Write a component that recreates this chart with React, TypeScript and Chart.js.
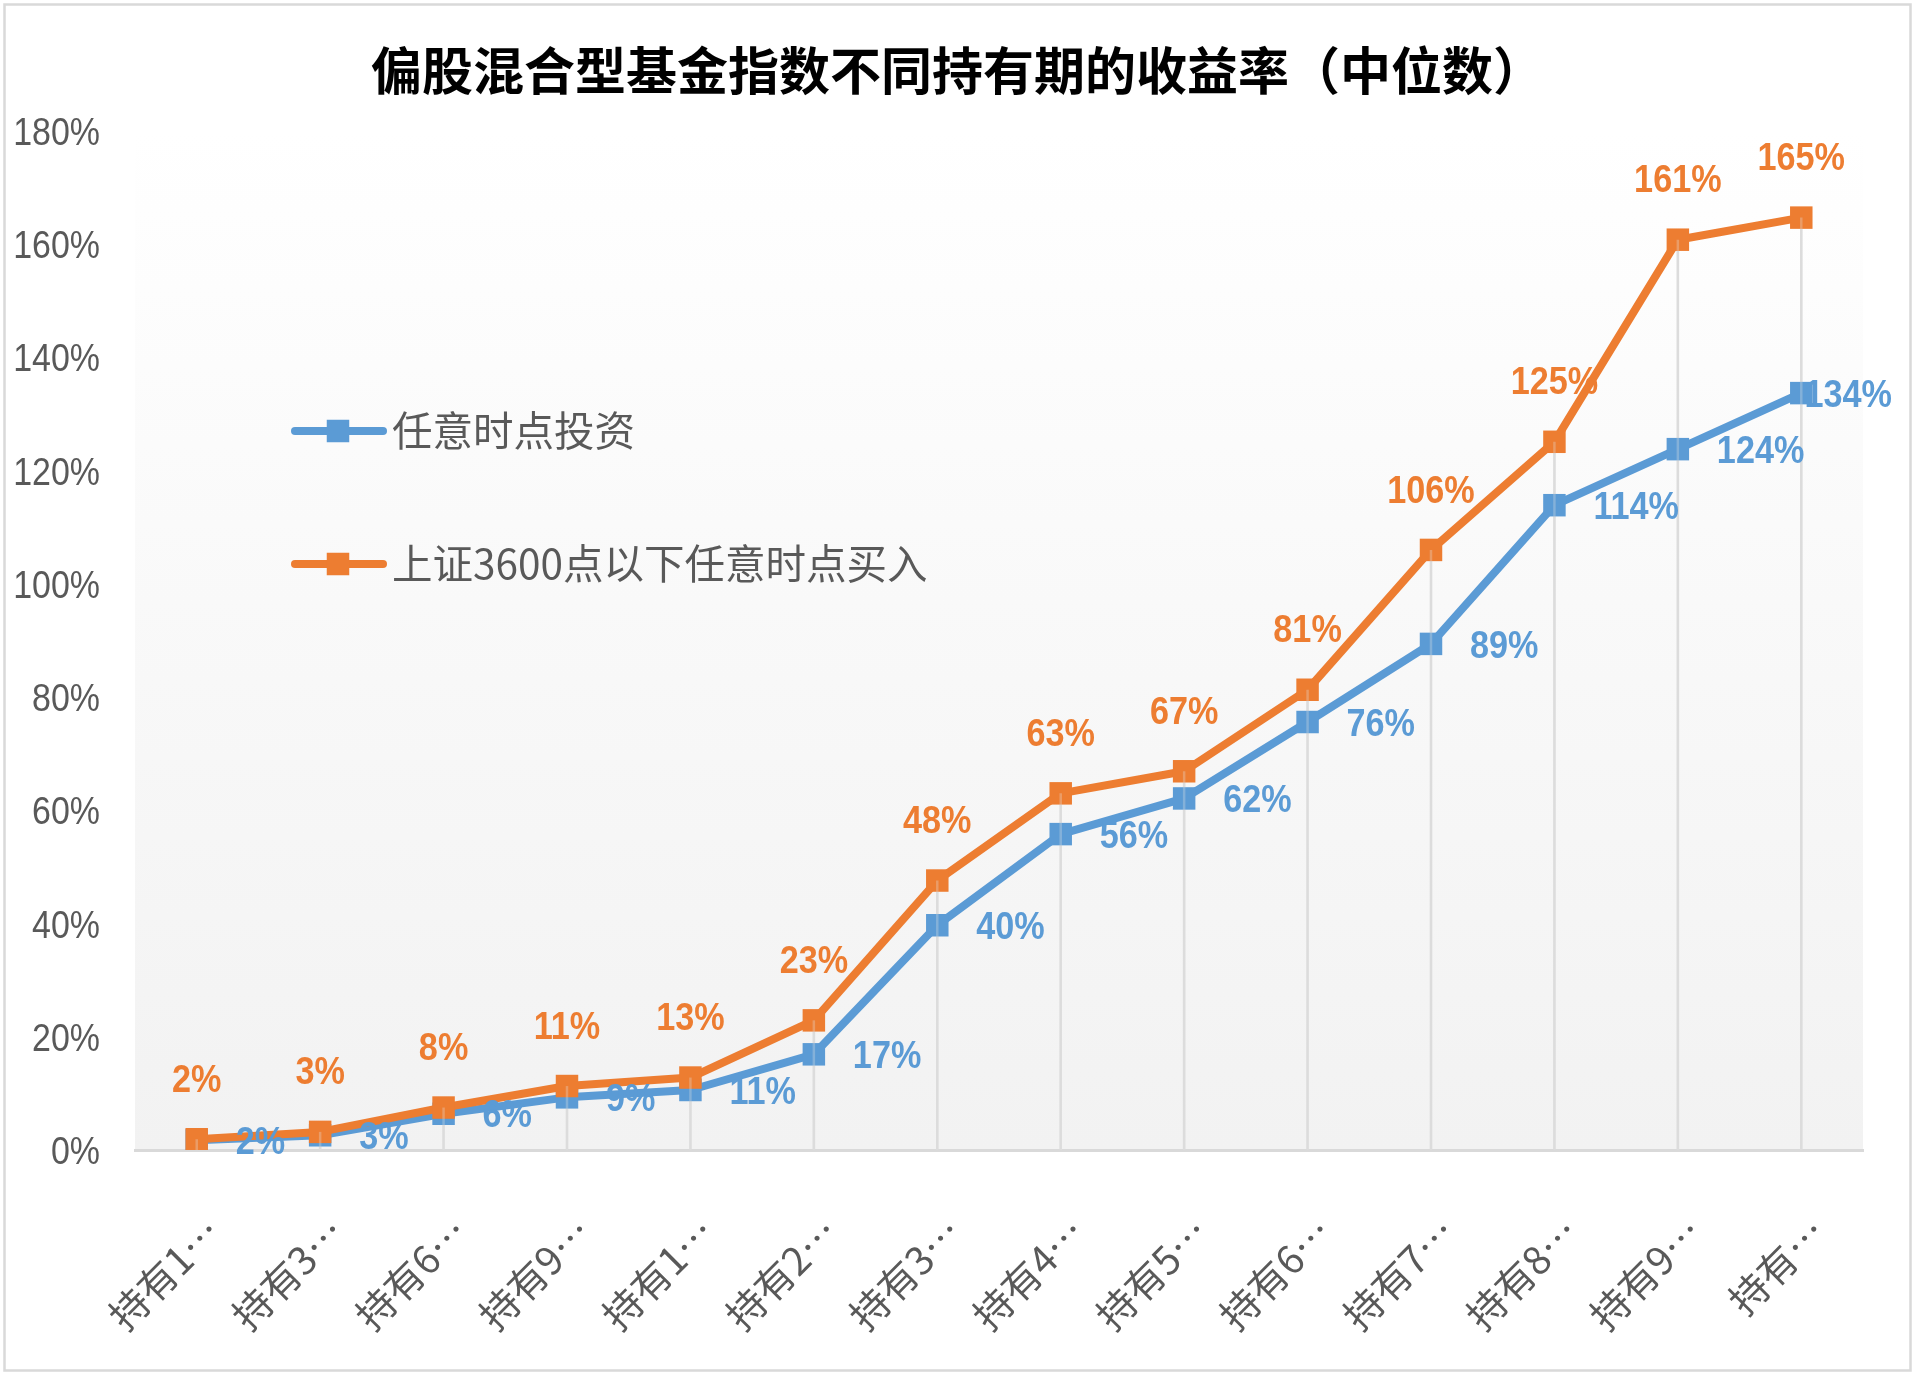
import React, { useEffect, useRef } from 'react';
import { Chart, registerables } from 'chart.js';

Chart.register(...registerables);

const TITLE = '偏股混合型基金指数不同持有期的收益率（中位数）';
const categories = ['持有1…', '持有3…', '持有6…', '持有9…', '持有1…', '持有2…', '持有3…', '持有4…', '持有5…', '持有6…', '持有7…', '持有8…', '持有9…', '持有…'];
const seriesNames = ['任意时点投资', '上证3600点以下任意时点买入'];
const anyTimeValues = [1.7, 2.6, 6.4, 9.3, 10.6, 16.9, 39.7, 55.8, 62.1, 75.6, 89.4, 113.9, 123.8, 133.7];
const below3600Values = [1.9, 3.2, 7.5, 11.3, 12.8, 22.9, 47.6, 63.0, 66.9, 81.3, 106.0, 125.1, 160.8, 164.7];
const yMin = 0;
const yMax = 180;
const yStep = 20;

const BLUE = '#5B9BD5';
const ORANGE = '#ED7D31';
const GRAY_TEXT = '#595959';
const W = 1915;
const H = 1375;

const drawScaledText = (
  ctx: CanvasRenderingContext2D,
  text: string,
  x: number,
  baseY: number,
  align: 'center' | 'left' | 'right',
  color: string,
  font: string,
  sx: number,
  maxRight: number
) => {
  ctx.save();
  ctx.font = font;
  const w = ctx.measureText(text).width * sx;
  let left = align === 'center' ? x - w / 2 : align === 'right' ? x - w : x;
  if (left + w > maxRight) left = maxRight - w;
  ctx.translate(left, baseY);
  ctx.scale(sx, 1);
  ctx.fillStyle = color;
  ctx.textAlign = 'left';
  ctx.textBaseline = 'alphabetic';
  ctx.fillText(text, 0, 0);
  ctx.restore();
};

const LABEL_SIZE = 38;
const LABEL_FONT = `bold ${LABEL_SIZE}px "Liberation Sans", Arial, sans-serif`;
const TICK_SIZE = 39;
const TICK_FONT = `${TICK_SIZE}px "Liberation Sans", Arial, sans-serif`;

const excelPlugin = {
  id: 'excelLook',
  beforeDraw(chart: any) {
    const { ctx, chartArea: a } = chart;
    ctx.save();
    ctx.fillStyle = '#ffffff';
    ctx.fillRect(0, 0, W, H);
    ctx.strokeStyle = '#d9d9d9';
    ctx.lineWidth = 2.5;
    ctx.strokeRect(4.5, 4.5, W - 9, H - 9);
    const g = ctx.createLinearGradient(0, a.top, 0, a.bottom);
    g.addColorStop(0, '#ffffff');
    g.addColorStop(1, '#f2f2f2');
    ctx.fillStyle = g;
    ctx.fillRect(a.left, a.top, a.right - a.left, a.bottom - a.top);
    ctx.fillStyle = '#000000';
    ctx.font = 'bold 51px "Noto Sans CJK SC", sans-serif';
    ctx.textAlign = 'center';
    ctx.textBaseline = 'middle';
    ctx.fillText(TITLE, W / 2, 71);
    ctx.restore();
  },
  beforeDatasetsDraw(chart: any) {
    const { ctx, chartArea: a, scales } = chart;
    ctx.save();
    ctx.strokeStyle = '#d9d9d9';
    ctx.lineWidth = 2.5;
    categories.forEach((_, i) => {
      const x = scales.x.getPixelForValue(i);
      const top = scales.y.getPixelForValue(Math.max(anyTimeValues[i], below3600Values[i]));
      ctx.beginPath();
      ctx.moveTo(x, top);
      ctx.lineTo(x, a.bottom);
      ctx.stroke();
    });
    ctx.restore();
    // y tick labels (condensed like the reference)
    scales.y.ticks.forEach((t: any) => {
      const y = scales.y.getPixelForValue(t.value);
      drawScaledText(ctx, `${t.value}%`, a.left - 35, y + TICK_SIZE * 0.358, 'right', GRAY_TEXT, TICK_FONT, 0.87, W);
    });
  },
  afterDatasetsDraw(chart: any) {
    const { ctx, chartArea: a, scales } = chart;
    ctx.save();
    ctx.strokeStyle = 'rgba(230,230,230,0.3)';
    ctx.lineWidth = 2.5;
    categories.forEach((_, i) => {
      const x = scales.x.getPixelForValue(i);
      const top = scales.y.getPixelForValue(Math.max(anyTimeValues[i], below3600Values[i]));
      ctx.beginPath();
      ctx.moveTo(x, top);
      ctx.lineTo(x, a.bottom);
      ctx.stroke();
    });
    ctx.restore();

    const capHalf = LABEL_SIZE * 0.358;
    below3600Values.forEach((v, i) => {
      const x = scales.x.getPixelForValue(i);
      const y = scales.y.getPixelForValue(v);
      drawScaledText(ctx, `${Math.round(v)}%`, x, y - 61 + capHalf, 'center', ORANGE, LABEL_FONT, 0.9, W - 23);
    });
    anyTimeValues.forEach((v, i) => {
      const x = scales.x.getPixelForValue(i);
      const y = scales.y.getPixelForValue(v);
      drawScaledText(ctx, `${Math.round(v)}%`, x + 39, y + capHalf, 'left', BLUE, LABEL_FONT, 0.9, W - 23);
    });

    const items = [
      { name: seriesNames[0], color: BLUE, y: 431 },
      { name: seriesNames[1], color: ORANGE, y: 564 },
    ];
    ctx.save();
    items.forEach((it) => {
      ctx.strokeStyle = it.color;
      ctx.lineWidth = 8;
      ctx.lineCap = 'round';
      ctx.beginPath();
      ctx.moveTo(295, it.y);
      ctx.lineTo(383, it.y);
      ctx.stroke();
      ctx.fillStyle = it.color;
      ctx.fillRect(338 - 11.25, it.y - 11.25, 22.5, 22.5);
      ctx.fillStyle = GRAY_TEXT;
      ctx.font = '40.5px "Noto Sans CJK SC", sans-serif';
      ctx.textAlign = 'left';
      ctx.textBaseline = 'middle';
      ctx.fillText(it.name, 392, it.y);
    });
    ctx.restore();
  },
};

export default function App() {
  const ref = useRef<HTMLCanvasElement | null>(null);
  useEffect(() => {
    if (!ref.current) return;
    const mkSet = (label: string, data: number[], color: string, order: number) => ({
      label,
      data,
      borderColor: color,
      backgroundColor: color,
      borderWidth: 8,
      borderJoinStyle: 'round' as const,
      borderCapStyle: 'round' as const,
      pointStyle: 'rect' as const,
      pointRadius: 15.9,
      pointHoverRadius: 15.9,
      pointBackgroundColor: color,
      pointBorderColor: color,
      pointBorderWidth: 0,
      tension: 0,
      order,
    });
    const chart = new Chart(ref.current, {
      type: 'line',
      data: {
        labels: categories,
        datasets: [
          mkSet(seriesNames[0], anyTimeValues, BLUE, 1),
          mkSet(seriesNames[1], below3600Values, ORANGE, 0),
        ],
      },
      options: {
        responsive: false,
        animation: false,
        devicePixelRatio: 1,
        events: [],
        layout: { padding: { top: 131, right: 52, left: 0, bottom: 0 }, autoPadding: false },
        plugins: { legend: { display: false }, title: { display: false }, tooltip: { enabled: false } },
        scales: {
          x: {
            type: 'category',
            offset: true,
            grid: { display: false, drawTicks: false },
            border: { display: true, color: '#d9d9d9', width: 3 },
            ticks: {
              autoSkip: false,
              minRotation: 45,
              maxRotation: 45,
              padding: 58,
              labelOffset: 17,
              color: GRAY_TEXT,
              font: { family: '"Noto Sans CJK SC"', size: 39 },
            },
            afterFit: (s: any) => {
              s.height = H - 1150;
            },
          },
          y: {
            min: yMin,
            max: yMax,
            grid: { display: false, drawTicks: false },
            border: { display: false },
            ticks: {
              display: false,
              stepSize: yStep,
            },
            afterFit: (s: any) => {
              s.width = 135;
            },
          },
        },
      },
      plugins: [excelPlugin],
    });
    return () => chart.destroy();
  }, []);
  return (
    <div style={{ position: 'absolute', left: 0, top: 0, width: W, height: H }}>
      <canvas ref={ref} width={W} height={H} style={{ display: 'block' }} />
    </div>
  );
}
